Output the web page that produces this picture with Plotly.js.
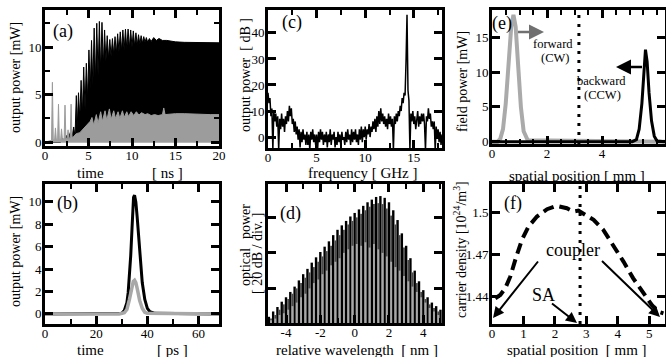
<!DOCTYPE html>
<html><head><meta charset="utf-8">
<script src="https://cdn.plot.ly/plotly-3.0.1.min.js"></script>
<style>html,body{margin:0;padding:0;background:#fff}#g{width:666px;height:357px}</style>
</head><body><div id="g"></div>
<script>
// ---------- data ----------
// (a) output power vs time [ns]
const aBlackT = [0,1.8,2.0,2.2,2.5,2.7,2.9,3.1,3.3,3.45,
  3.6,3.7,3.85,4.0,4.15,4.3,4.45,4.6,4.75,4.9,5.05,5.2,5.35,5.5,5.65,5.8,5.95,6.1,6.25,6.4,
  6.55,6.7,6.85,7.0,7.15,7.3,7.45,7.6,7.75,7.9,8.05,8.2,8.35,8.5,8.65,8.8,8.95,9.1,9.25,9.4,
  9.55,9.7,9.85,10.0,10.15,10.3,10.45,10.6,10.75,10.9,11.05,11.2,11.35,11.5,11.65,11.8,
  12.0,12.2,12.5,12.8,13.1,13.5,14,15,16,17,18,19,20];
const aBlackP = [0,0,0.4,0.2,0.7,0.4,1.0,0.5,1.6,0.6,
  4.9,1.5,5.2,2.5,6.5,3.0,7.9,3.5,8.3,4.5,9.7,5.5,10.7,6.0,12.0,6.5,12.5,7.0,12.7,7.5,
  12.6,8.0,11.8,8.5,11.2,8.8,10.8,9.0,10.9,9.2,11.1,9.3,11.4,9.5,11.6,9.6,11.8,9.7,11.9,9.8,
  11.9,9.9,11.8,10.0,11.7,10.1,11.5,10.2,11.3,10.3,11.2,10.4,11.1,10.5,11.0,10.5,
  10.9,10.6,11.0,10.7,10.9,10.7,10.7,10.55,10.5,10.5,10.45,10.5,10.45];
const aGrayT = [0,0.75,0.85,0.95, 1.1,1.2,1.3, 1.45,1.55,1.65, 1.8,1.9,2.0, 2.2,2.3,2.4,
  2.55,2.65,2.75, 2.9,3.0,3.1, 3.3,3.6,4.0,4.3,4.6,4.9,5.2,
  5.4,5.6,5.9,6.1,6.4,6.6,6.9,7.1,7.4,7.6,7.9,8.1,8.4,8.6,8.9,9.1,9.4,9.6,9.9,
  10.2,10.5,10.8,11.1,11.5,11.8,12.2,12.6,13.0,13.5,13.65,13.8,14.5, 15,16,17,18,19,20];
const aGrayP = [0,0.2,6.3,0.3, 0.2,1.5,0.3, 0.3,4.0,0.3, 0.3,1.4,0.3, 0.4,3.9,0.4,
  0.4,1.3,0.4, 0.5,4.0,0.5, 0.6,0.9,1.0,1.3,1.5,1.9,2.2,
  2.6,1.8,2.9,2.0,3.2,2.2,3.3,2.3,3.5,2.4,3.3,2.5,3.2,2.5,3.3,2.6,3.2,2.7,3.2,
  2.8,3.2,2.85,3.1,2.9,3.0,2.8,2.9,2.8,2.9,3.6,2.9,3.0, 3.0,3.0,2.95,2.95,2.9,2.9];

// (b) single pulse, time [ps]
const bBlackT = [0,28,30,31,32,32.5,33,33.5,34,34.3,34.6,35,35.5,36,36.5,37,38,39,40,41,43,68];
const bBlackP = [0,0,0.05,0.3,1.0,1.9,3.3,5.2,7.6,9.2,10.4,10.6,10.0,8.7,7.0,5.3,2.8,1.3,0.5,0.2,0.05,0];
const bGrayT  = [0,29,31,32,33,33.5,34,34.5,35,35.5,36,36.5,37,38,39,40,68];
const bGrayP  = [0,0,0.1,0.4,1.3,1.9,2.5,2.9,3.0,2.8,2.3,1.7,1.2,0.5,0.15,0.05,0];

// (c) RF spectrum [dB], 0..18 GHz step 0.1
const cStart = 0, cStep = 0.1;
const cDB = [17,13,15,8,11,-5,10,6,9,4,
  8,-5,7,3,9,4,7,2,8,5,
  10,6,12,8,11,5,7,2,6,1,
  4,-1,3,-4,2,-2,3,-1,1,-3,
  2,-3,1,-5,2,-1,3,-2,1,-3,
  1,-5,2,-2,3,-1,2,-3,1,-2,
  2,-4,1,-2,3,-3,1,-1,2,-4,
  0,-3,2,-2,1,-4,2,-1,0,-3,
  2,-2,3,-1,1,-3,3,-2,2,-1,
  3,-2,1,-3,3,-1,4,-2,3,0,
  4,-1,3,1,5,0,4,2,6,3,
  7,2,8,4,10,5,11,6,9,5,
  8,4,7,3,9,5,8,4,7,-5,
  8,5,9,6,10,8,12,10,15,13,
  17,16,29,47,18,14,-5,9,6,10,
  5,8,3,7,10,4,8,5,9,6,
  9,5,-5,8,6,11,7,9,4,6,
  3,6,-5,4,0,3,-2,2,-3,1,
  0];

// (d) optical spectrum (modes), relative wavelength [nm], dB
const dStart = -5, dStep = 0.25, dGapStart = -4.875;
const dBlack = [-16,-13,-10.5,-7.5,-5,-2,1,4.5,8,11,14.5,17.5,20.5,23.5,26.5,30,33,35.5,38,40.5,
  42.5,44.5,46.5,48.5,50,51.5,52,51,48.5,44,38.5,31,24,17,10,4,-1,-5,-8,-10,-12];
const dDark = [-17,-15,-12,-9,-6,-3,0,3,6,9,12,15,18,21,24,27,30,33,36,38,
  40,42,44,46,47.5,48,47.5,45,41,36,30,23,16,9,3,-2,-6,-9,-11,-13];
const dLight = [-18,-17,-15,-14,-12,-10,-8,-5,-3,0,3,5,8,10,13,15,17,20,22,24,
  25,24,26,23,25,22,20,18,15,12,10,7,4,1,-2,-5,-8,-11,-13,-15];
const dBase = -19.5;

// (e) field power vs spatial position [mm]
const eGrayX = [0,0.2,0.3,0.4,0.5,0.6,0.7,0.78,0.86,0.95,1.05,1.15,1.3,6.29];
const eGrayP = [0,0,0.4,1.8,5.5,11,16.5,18.2,16.5,11,5,1.5,0.2,0];
const eBlackX = [0,5.1,5.25,5.35,5.45,5.52,5.58,5.64,5.71,5.8,5.9,6.0,6.29];
const eBlackP = [0,0,0.3,1.8,5.5,10.5,13.2,11.5,7,3,0.8,0.1,0];
const eCouplerX = 3.16;

// (f) carrier density vs spatial position [mm]
const fX = [0.105,0.263,0.42,0.58,0.74,0.95,1.16,1.43,1.75,2.06,2.38,2.59,2.75,2.91,3.23,3.54,3.86,4.18,4.49,4.81,5.08,5.29,5.45];
const fN = [1.4388,1.4412,1.4459,1.4542,1.4661,1.4803,1.4898,1.4969,1.5021,1.5045,1.5028,1.5004,1.5011,1.4988,1.4945,1.4874,1.4767,1.4649,1.4530,1.4424,1.4341,1.4293,1.4282];
const fCouplerX = 2.8;

// ---------- styling ----------
const W = 666, H = 357;
const F = 'Liberation Serif';
const GRAY = '#9c9c9c';
const MINOR = {ticks:'inside', ticklen:5, tickwidth:2, tickcolor:'#000'};
function ax(o){
  return Object.assign({showline:true, linewidth:3, linecolor:'#000', mirror:'allticks',
    ticks:'inside', ticklen:8, tickwidth:3, tickcolor:'#000', showgrid:false, zeroline:false,
    tickfont:{family:F, size:13, color:'#000'}, fixedrange:true}, o);
}
const dx = (l,r)=>[l/W, r/W];
const dy = (t,b)=>[1-b/H, 1-t/H];
function txt(px,py,text,size,extra){
  return Object.assign({xref:'paper',yref:'paper',x:px/W,y:1-py/H,text:text,showarrow:false,
    font:{family:F,size:size,color:'#000'},xanchor:'center',yanchor:'middle'}, extra||{});
}
function arr(hx,hy,tx,ty,color,w,s){
  return {xref:'paper',yref:'paper',x:hx/W,y:1-hy/H,ax:tx-hx,ay:ty-hy,axref:'pixel',ayref:'pixel',
    showarrow:true,arrowhead:2,arrowsize:s||1,arrowwidth:w||2,arrowcolor:color,text:' ',
    font:{family:F,size:2}};
}

const traces = [
  // (a)
  {x:aBlackT, y:aBlackP, xaxis:'x', yaxis:'y', type:'scatter', mode:'lines', fill:'tozeroy',
   fillcolor:'#000', line:{color:'#000', width:1}},
  {x:aGrayT, y:aGrayP, xaxis:'x', yaxis:'y', type:'scatter', mode:'lines', fill:'tozeroy',
   fillcolor:GRAY, line:{color:GRAY, width:1}},
  // (c)
  {x0:cStart, dx:cStep, y:cDB, xaxis:'x2', yaxis:'y2', type:'scatter', mode:'lines',
   line:{color:'#000', width:1.5}},
  // (e)
  {x:eGrayX, y:eGrayP, xaxis:'x3', yaxis:'y3', type:'scatter', mode:'lines', line:{color:'#aaaaaa', width:4}},
  {x:eBlackX, y:eBlackP, xaxis:'x3', yaxis:'y3', type:'scatter', mode:'lines', line:{color:'#000', width:3}},
  {x:[eCouplerX,eCouplerX], y:[-0.33,18.9], xaxis:'x3', yaxis:'y3', type:'scatter', mode:'lines',
   line:{color:'#000', width:3, dash:'3px,6px'}},
  // (b)
  {x:bBlackT, y:bBlackP, xaxis:'x4', yaxis:'y4', type:'scatter', mode:'lines', line:{color:'#000', width:3}},
  {x:bGrayT, y:bGrayP, xaxis:'x4', yaxis:'y4', type:'scatter', mode:'lines', line:{color:'#a8a8a8', width:3.5}},
  // (d)
  {x0:dStart, dx:dStep, y:dBlack.map(v=>v-dBase), base:dBase, width:0.14, xaxis:'x5', yaxis:'y5', type:'bar',
   marker:{color:'#000', line:{width:0}}},
  {x0:dGapStart, dx:dStep, y:dDark.map(v=>v-dBase), base:dBase, width:0.11, xaxis:'x5', yaxis:'y5', type:'bar',
   marker:{color:'#4a4a4a', line:{width:0}}},
  {x0:dGapStart, dx:dStep, y:dLight.map(v=>v-dBase), base:dBase, width:0.11, xaxis:'x5', yaxis:'y5', type:'bar',
   marker:{color:'#a8a8a8', line:{width:0}}},
  // (f)
  {x:fX, y:fN, xaxis:'x6', yaxis:'y6', type:'scatter', mode:'lines', line:{color:'#000', width:4, dash:'11px,6px'}},
  {x:[fCouplerX,fCouplerX], y:[1.4206,1.52], xaxis:'x6', yaxis:'y6', type:'scatter', mode:'lines',
   line:{color:'#000', width:3, dash:'3px,6px'}}
];

const layout = {
  width:W, height:H, margin:{l:0,r:0,t:0,b:0}, showlegend:false,
  paper_bgcolor:'#fff', plot_bgcolor:'#fff', barmode:'overlay',
  font:{family:F, color:'#000'},
  // (a)
  xaxis: ax({domain:dx(45,219), range:[0,20], anchor:'y', dtick:5, ticklabelstandoff:-5, minor:Object.assign({dtick:2.5},MINOR)}),
  yaxis: ax({domain:dy(10,146), range:[-0.4,13.9], anchor:'x', dtick:5, ticklabelstandoff:-2, minor:Object.assign({dtick:2.5},MINOR)}),
  // (c)
  xaxis2: ax({domain:dx(268,442), range:[0,17.9], anchor:'y2', dtick:5, ticklabelstandoff:-5, minor:Object.assign({dtick:2.5},MINOR)}),
  yaxis2: ax({domain:dy(10,148), range:[-4.2,48.8], anchor:'x2', dtick:10, ticklabelstandoff:-2}),
  // (e)
  xaxis3: ax({domain:dx(492,665), range:[0,6.29], anchor:'y3', tickvals:[0,2,4], ticklabelstandoff:-5, minor:Object.assign({dtick:0.5},MINOR)}),
  yaxis3: ax({domain:dy(10,144), range:[-0.33,18.9], anchor:'x3', dtick:5, ticklabelstandoff:-2}),
  // (b)
  xaxis4: ax({domain:dx(45,219), range:[0,68], anchor:'y4', dtick:20, ticklabelstandoff:-5, minor:Object.assign({dtick:10},MINOR)}),
  yaxis4: ax({domain:dy(184,324), range:[-0.9,11.6], anchor:'x4', dtick:2, ticklabelstandoff:-2}),
  // (d)
  xaxis5: ax({domain:dx(268,442), range:[-5.05,5.09], anchor:'y5', tickvals:[-4,-2,0,2,4], ticktext:['-4','-2','0','2','4'],
    ticklabelstandoff:-5, minor:Object.assign({tickvals:[-5,-3,-1,1,3,5]},MINOR)}),
  yaxis5: ax({domain:dy(184,323), range:[-19.5,58.8], anchor:'x5', tickvals:[0,20,40], showticklabels:false}),
  // (f)
  xaxis6: ax({domain:dx(492,665), range:[0,5.5], anchor:'y6', dtick:1, ticklabelstandoff:-5}),
  yaxis6: ax({domain:dy(184,324), range:[1.4206,1.52], anchor:'x6', tickvals:[1.44,1.47,1.5], ticktext:['1.44','1.47','1.5'], ticklabelstandoff:-2}),
  annotations: [
    // panel labels
    txt(63,31,'(a)',18), txt(292,23,'(c)',18), txt(502,24,'(e)',18),
    txt(67,203,'(b)',18), txt(290,213,'(d)',18), txt(513,203,'(f)',18),
    // x titles
    txt(90,173,'time',15), txt(167,173,'[ ns ]',15),
    txt(363,173,'frequency [ GHz ]',15),
    txt(577,176,'spatial position [ mm ]',15),
    txt(90,350,'time',15), txt(172,350,'[ ps ]',15),
    txt(357,350,'relative wavelength  [ nm ]',15),
    txt(577,350,'spatial position  [ mm ]',15),
    // y titles
    txt(15,78,'output power [mW]',14,{textangle:-90}),
    txt(245,75,'output power  [ dB ]',14,{textangle:-90}),
    txt(463,82,'field power [mW]',14,{textangle:-90}),
    txt(15,252,'output power [mW]',14,{textangle:-90}),
    txt(245,267,'optical',14,{textangle:-90}), txt(245,222,'power',14,{textangle:-90}),
    txt(257,253,'[ 20 dB / div. ]',14,{textangle:-90}),
    txt(460,250,'carrier density [10<sup>24</sup>/m<sup>3</sup>]',14,{textangle:-90}),
    // (e) texts and arrows
    txt(553,44,'forward',12.5), txt(555,58,'(CW)',12.5),
    txt(601,81,'backward',12.5), txt(602,95,'(CCW)',12.5),
    arr(544,32,516,32,'#707070',2.5,1.2),
    arr(616,67,644,67,'#000',2.5,1.2),
    // (f) texts and arrows
    txt(573,250,'coupler',18), txt(543,295,'SA',18),
    arr(493,318,540,259,'#000',2,1.1),
    arr(660,317,600,259,'#000',2,1.1),
    arr(577,323,550,302,'#000',2,1.1)
  ]
};
Plotly.newPlot('g', traces, layout, {staticPlot:true, displayModeBar:false});
</script>
</body></html>
